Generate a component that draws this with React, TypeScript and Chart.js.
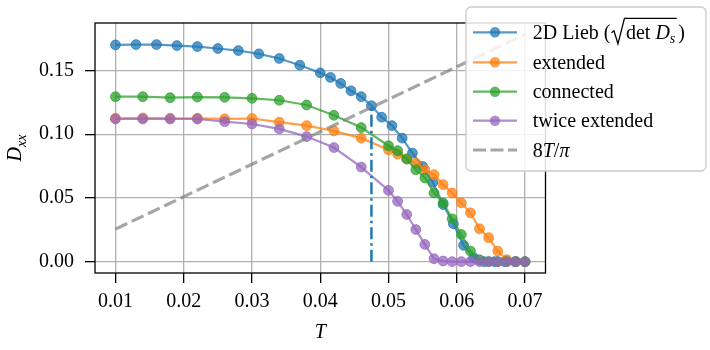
import React, { useEffect, useRef } from "react";
import { Chart, registerables } from "chart.js";

Chart.register(...registerables);

const SERIF = "'Liberation Serif', 'Times New Roman', 'DejaVu Serif', serif";
const FS = 20;
const FS_SUB = 14;

// ---- data ----
const T_LIEB = [
  0.010, 0.013, 0.016, 0.019, 0.022, 0.025, 0.028, 0.031, 0.034, 0.037, 0.040,
  0.0415, 0.043, 0.0445, 0.046, 0.0475, 0.049, 0.0505, 0.052, 0.0535, 0.055,
  0.0565, 0.058, 0.0595, 0.061, 0.0625, 0.064, 0.0655, 0.067, 0.0685, 0.070,
];
const D_LIEB = [
  0.1700, 0.1703, 0.1703, 0.1695, 0.1687, 0.1672, 0.1656, 0.1630, 0.1594, 0.1541, 0.1481,
  0.1445, 0.1398, 0.1340, 0.1294, 0.1223, 0.1133, 0.1067, 0.0969, 0.0852, 0.0747,
  0.0622, 0.0448, 0.0297, 0.0128, 0.0030, 0, 0, 0, 0, 0,
];

const T_GRID = [
  0.010, 0.014, 0.018, 0.022, 0.026, 0.030, 0.034, 0.038, 0.042, 0.046, 0.050,
  0.05133, 0.05267, 0.054, 0.05533, 0.05667, 0.058, 0.05933, 0.06067, 0.062,
  0.06333, 0.06467, 0.066, 0.06733, 0.06867, 0.070,
];
const D_EXTENDED = [
  0.1125, 0.1128, 0.1125, 0.1125, 0.1120, 0.1123, 0.1094, 0.1067, 0.1026, 0.0969, 0.0877,
  0.0844, 0.0805, 0.0773, 0.0721, 0.0682, 0.0604, 0.0539, 0.0461, 0.0383,
  0.0258, 0.0188, 0.0083, 0.0015, 0, 0,
];
const D_CONNECTED = [
  0.1294, 0.1294, 0.1286, 0.1291, 0.1289, 0.1281, 0.1266, 0.1229, 0.1148, 0.1052, 0.0909,
  0.0870, 0.0805, 0.0721, 0.0656, 0.0539, 0.0461, 0.0336, 0.0213, 0.0083,
  0.0015, 0, 0, 0, 0, 0,
];
const D_TWICE = [
  0.1119, 0.1119, 0.1119, 0.1119, 0.1098, 0.1080, 0.1041, 0.0981, 0.0895, 0.0742, 0.0559,
  0.0473, 0.0370, 0.0252, 0.0135, 0.0023, 0.0005, 0, 0, 0,
  0, 0, 0, 0, 0, 0,
];

const T_LINE = [0.01, 0.07];
const D_LINE = [0.0255, 0.1783]; // 8T/pi at the ends

const T_C = [0.0475, 0.0475];
const D_C = [0, 0.1223];

const X_TICKS = [0.01, 0.02, 0.03, 0.04, 0.05, 0.06, 0.07];
const Y_TICKS = [0.0, 0.05, 0.1, 0.15];
const X_RANGE = [0.007, 0.073];
const Y_RANGE = [-0.0089, 0.1872];

const LABELS = ["2D Lieb", "extended", "connected", "twice extended", "8T/π"];
const COLORS = ["31,119,180", "255,127,14", "44,160,44", "148,103,189"];
const ALPHA = 0.75;

const pts = (xs: number[], ys: number[]) => xs.map((x, i) => ({ x, y: ys[i] }));

const rgba = (c: string, a: number) => `rgba(${c},${a})`;

const overlayPlugin = {
  id: "overlay",
  afterDatasetsDraw(chart: any) {
    const { ctx, chartArea: a } = chart;
    ctx.save();
    ctx.strokeStyle = "#000";
    ctx.lineWidth = 1.3;
    ctx.strokeRect(a.left, a.top, a.right - a.left, a.bottom - a.top);
    ctx.restore();
  },
  afterDraw(chart: any) {
    const { ctx, chartArea: a } = chart;
    ctx.save();
    ctx.fillStyle = "#000";
    // x title
    ctx.font = `italic ${FS}px ${SERIF}`;
    ctx.textAlign = "center";
    ctx.textBaseline = "alphabetic";
    ctx.fillText("T", (a.left + a.right) / 2, 337.5);

    // y title D_xx (rotated)
    ctx.save();
    const cy = (a.top + a.bottom) / 2;
    ctx.translate(21, cy);
    ctx.rotate(-Math.PI / 2);
    ctx.textAlign = "left";
    ctx.font = `italic ${FS}px ${SERIF}`;
    const wD = ctx.measureText("D").width;
    ctx.font = `italic ${FS_SUB}px ${SERIF}`;
    const wX = ctx.measureText("xx").width;
    const start = -(wD + wX) / 2;
    ctx.font = `italic ${FS}px ${SERIF}`;
    ctx.fillText("D", start, 0);
    ctx.font = `italic ${FS_SUB}px ${SERIF}`;
    ctx.fillText("xx", start + wD, 4.5);
    ctx.restore();

    // legend
    const lx = 466, ly = 7, lw = 240, lh = 164;
    ctx.beginPath();
    ctx.roundRect(lx, ly, lw, lh, 5);
    ctx.fillStyle = "rgba(255,255,255,0.85)";
    ctx.fill();
    ctx.strokeStyle = "#cccccc";
    ctx.lineWidth = 1.3;
    ctx.stroke();

    const rowY = [32.3, 62.3, 91.7, 120.7, 150];
    const hx0 = 473, hx1 = 517, hmx = 495, tx = 532.7;
    for (let i = 0; i < 5; i++) {
      const y = rowY[i];
      ctx.save();
      if (i < 4) {
        ctx.strokeStyle = rgba(COLORS[i], ALPHA);
        ctx.lineWidth = 2.2;
        ctx.beginPath();
        ctx.moveTo(hx0, y);
        ctx.lineTo(hx1, y);
        ctx.stroke();
        ctx.fillStyle = rgba(COLORS[i], ALPHA);
        ctx.beginPath();
        ctx.arc(hmx, y, 5.2, 0, Math.PI * 2);
        ctx.fill();
      } else {
        ctx.strokeStyle = "rgba(128,128,128,0.7)";
        ctx.lineWidth = 3.2;
        ctx.setLineDash([13, 4.5]);
        ctx.beginPath();
        ctx.moveTo(hx0, y);
        ctx.lineTo(hx1, y);
        ctx.stroke();
      }
      ctx.restore();

      const base = y + 6.5;
      ctx.fillStyle = "#000";
      ctx.textAlign = "left";
      ctx.textBaseline = "alphabetic";
      if (i === 0) {
        ctx.font = `${FS}px ${SERIF}`;
        let x = tx;
        const s1 = LABELS[0] + " (";
        ctx.fillText(s1, x, base);
        x += ctx.measureText(s1).width + 1;
        // radical sign
        const r0 = x;
        ctx.save();
        ctx.strokeStyle = "#000";
        ctx.lineWidth = 1.3;
        ctx.lineJoin = "miter";
        ctx.beginPath();
        ctx.moveTo(r0, base - 6);
        ctx.lineTo(r0 + 2.5, base - 8);
        ctx.lineTo(r0 + 6.5, base + 5);
        ctx.lineTo(r0 + 13, base - 20.5);
        const textStart = r0 + 14.5;
        ctx.font = `${FS}px ${SERIF}`;
        const wDet = ctx.measureText("det ").width;
        ctx.font = `italic ${FS}px ${SERIF}`;
        const wD2 = ctx.measureText("D").width;
        ctx.font = `italic ${FS_SUB}px ${SERIF}`;
        const wS = ctx.measureText("s").width;
        const end = textStart + wDet + wD2 + wS + 1.5;
        ctx.lineTo(end, base - 20.5);
        ctx.stroke();
        ctx.restore();
        ctx.font = `${FS}px ${SERIF}`;
        ctx.fillText("det", textStart, base);
        ctx.font = `italic ${FS}px ${SERIF}`;
        ctx.fillText("D", textStart + wDet, base);
        ctx.font = `italic ${FS_SUB}px ${SERIF}`;
        ctx.fillText("s", textStart + wDet + wD2, base + 4);
        ctx.font = `${FS}px ${SERIF}`;
        ctx.fillText(")", end + 1.5, base);
      } else if (i === 4) {
        ctx.font = `${FS}px ${SERIF}`;
        ctx.fillText("8", tx, base);
        let x = tx + ctx.measureText("8").width;
        ctx.font = `italic ${FS}px ${SERIF}`;
        ctx.fillText("T", x, base);
        x += ctx.measureText("T").width;
        ctx.font = `${FS}px ${SERIF}`;
        ctx.fillText("/", x, base);
        x += ctx.measureText("/").width;
        ctx.font = `italic ${FS}px ${SERIF}`;
        ctx.fillText("π", x, base);
      } else {
        ctx.font = `${FS}px ${SERIF}`;
        ctx.fillText(LABELS[i], tx, base);
      }
    }
    ctx.restore();
  },
};

export default function App() {
  const ref = useRef<HTMLCanvasElement | null>(null);

  useEffect(() => {
    if (!ref.current) return;
    Chart.defaults.font.family = SERIF;
    Chart.defaults.font.size = FS;
    Chart.defaults.color = "#000";

    const series = [
      { label: LABELS[0], data: pts(T_LIEB, D_LIEB), c: COLORS[0], order: 6 },
      { label: LABELS[1], data: pts(T_GRID, D_EXTENDED), c: COLORS[1], order: 5 },
      { label: LABELS[2], data: pts(T_GRID, D_CONNECTED), c: COLORS[2], order: 4 },
      { label: LABELS[3], data: pts(T_GRID, D_TWICE), c: COLORS[3], order: 3 },
    ].map((s) => ({
      label: s.label,
      data: s.data,
      order: s.order,
      borderColor: rgba(s.c, ALPHA),
      backgroundColor: rgba(s.c, ALPHA),
      pointBackgroundColor: rgba(s.c, ALPHA),
      pointBorderColor: rgba(s.c, ALPHA),
      pointBorderWidth: 1,
      pointRadius: 4.9,
      borderWidth: 2.2,
      tension: 0,
    }));

    const chart = new Chart(ref.current, {
      type: "line",
      data: {
        datasets: [
          ...series,
          {
            label: LABELS[4],
            data: pts(T_LINE, D_LINE),
            order: 2,
            borderColor: "rgba(128,128,128,0.7)",
            borderWidth: 3.2,
            borderDash: [13, 5],
            pointRadius: 0,
          },
          {
            label: "Tc",
            data: pts(T_C, D_C),
            order: 1,
            borderColor: "rgb(31,119,180)",
            borderWidth: 2.5,
            borderDash: [12, 4, 2.5, 4],
            pointRadius: 0,
          },
        ] as any,
      },
      options: {
        responsive: false,
        animation: false,
        layout: { padding: { top: 22.7, right: 164.5, left: 0, bottom: 0 } },
        plugins: { legend: { display: false }, tooltip: { enabled: false } },
        scales: {
          x: {
            type: "linear",
            min: X_RANGE[0],
            max: X_RANGE[1],
            afterBuildTicks: (s: any) => {
              s.ticks = X_TICKS.map((v) => ({ value: v }));
            },
            afterFit: (s: any) => {
              s.height = 77;
            },
            ticks: {
              callback: (v: any) => Number(v).toFixed(2),
              padding: 7,
              maxRotation: 0,
              autoSkip: false,
              color: "#000",
              font: { size: FS, family: SERIF },
            },
            grid: {
              color: "#b0b0b0",
              lineWidth: 1.3,
              tickColor: "#000",
              tickLength: 10,
              tickWidth: 1.3,
            },
            border: { display: false },
          },
          y: {
            type: "linear",
            min: Y_RANGE[0],
            max: Y_RANGE[1],
            afterBuildTicks: (s: any) => {
              s.ticks = Y_TICKS.map((v) => ({ value: v }));
            },
            afterFit: (s: any) => {
              s.width = 95;
            },
            ticks: {
              callback: (v: any) => Number(v).toFixed(2),
              padding: 11,
              autoSkip: false,
              color: "#000",
              font: { size: FS, family: SERIF },
            },
            grid: {
              color: "#b0b0b0",
              lineWidth: 1.3,
              tickColor: "#000",
              tickLength: 10,
              tickWidth: 1.3,
            },
            border: { display: false },
          },
        },
      },
      plugins: [overlayPlugin],
    });
    return () => chart.destroy();
  }, []);

  return (
    <div style={{ position: "fixed", left: 0, top: 0, width: 710, height: 350, background: "#fff" }}>
      <canvas ref={ref} width={710} height={350} style={{ width: 710, height: 350, display: "block" }} />
    </div>
  );
}
